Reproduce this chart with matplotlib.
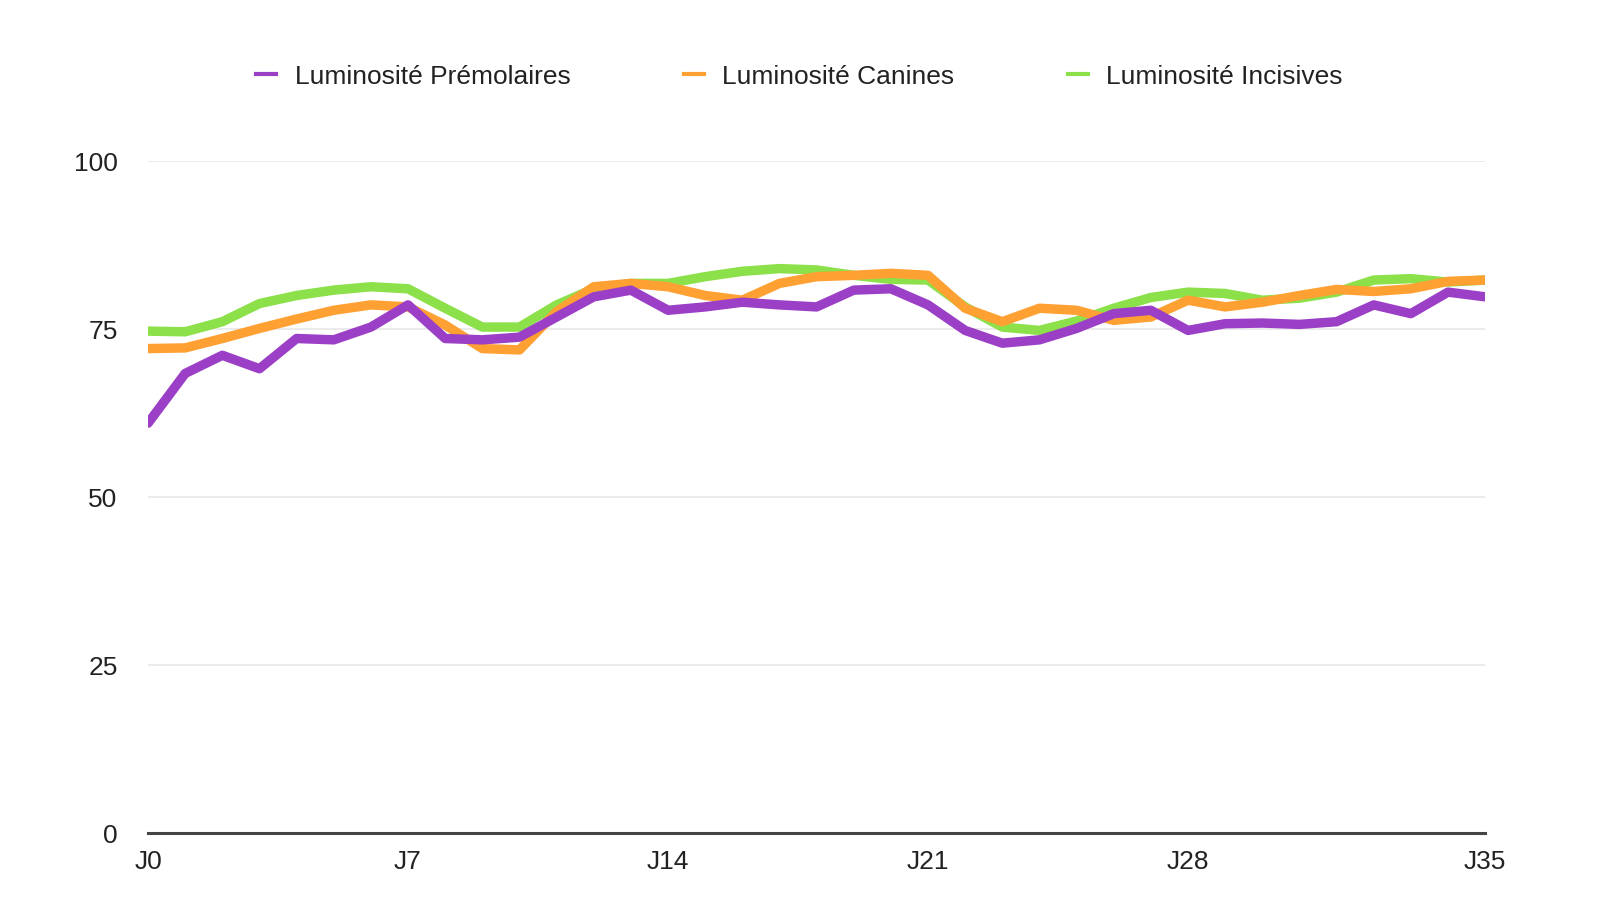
import numpy as np
import matplotlib
matplotlib.use("Agg")
import matplotlib.pyplot as plt

# 37 category points (last label "J35" sits at the end)
points = list(range(37))
premolaires = [61.0, 68.4, 71.1, 69.1, 73.6, 73.4, 75.3, 78.6, 73.6, 73.4,
               73.8, 76.8, 79.8, 80.8, 77.8, 78.3, 79.0, 78.6, 78.3, 80.8,
               81.0, 78.6, 74.8, 72.9, 73.4, 75.1, 77.3, 77.8, 74.8, 75.8,
               75.9, 75.7, 76.1, 78.6, 77.3, 80.5, 79.8]
canines = [72.1, 72.2, 73.6, 75.1, 76.5, 77.8, 78.6, 78.3, 75.6, 72.1,
           71.9, 77.6, 81.3, 81.8, 81.3, 80.0, 79.3, 81.8, 82.8, 83.0,
           83.3, 83.0, 78.1, 76.1, 78.1, 77.8, 76.3, 76.8, 79.3, 78.3,
           79.0, 80.0, 80.9, 80.6, 81.0, 82.1, 82.3]
incisives = [74.7, 74.6, 76.1, 78.8, 80.0, 80.8, 81.3, 81.0, 78.1, 75.3,
             75.3, 78.6, 81.0, 81.8, 81.8, 82.8, 83.6, 84.0, 83.8, 83.0,
             82.4, 82.3, 78.3, 75.3, 74.8, 76.2, 78.1, 79.7, 80.5, 80.3,
             79.3, 79.6, 80.5, 82.3, 82.5, 82.0, 82.3]

xtick_pos = [0, 7, 14, 21, 28, 36]
xtick_labels = ["J0", "J7", "J14", "J21", "J28", "J35"]
ytick_pos = [0, 25, 50, 75, 100]

plt.rcParams['font.family'] = ['Liberation Sans', 'DejaVu Sans']

fig = plt.figure(figsize=(15.99, 9), dpi=100)
ax = fig.add_axes([0.0926, 0.0744, 0.8362, 0.7466])

lw = 6.8
ax.plot(points, incisives, color="#8ce04a", lw=lw, solid_joinstyle="round",
        solid_capstyle="round", zorder=3)
ax.plot(points, canines, color="#ffa033", lw=lw, solid_joinstyle="round",
        solid_capstyle="round", zorder=4)
ax.plot(points, premolaires, color="#9b3fc6", lw=lw, solid_joinstyle="round",
        solid_capstyle="round", zorder=5)

ax.set_xlim(0, 36)
ax.set_ylim(0, 100)
ax.set_xticks(xtick_pos)
ax.set_xticklabels(xtick_labels)
ax.set_yticks(ytick_pos)
ax.tick_params(axis="both", length=0, labelsize=19, colors="#222222")
ax.tick_params(axis="x", pad=12)
ax.tick_params(axis="y", pad=22)

ax.grid(axis="y", color="#e8e8e8", lw=1.2)
ax.set_axisbelow(True)
for s in ["top", "right", "left"]:
    ax.spines[s].set_visible(False)
ax.spines["bottom"].set_color("#444444")
ax.spines["bottom"].set_linewidth(2.2)
ax.spines["bottom"].set_zorder(6)

leg_handles = [plt.Line2D([], [], color=c, lw=3)
               for c in ["#9b3fc6", "#ffa033", "#8ce04a"]]
fig.legend(leg_handles,
           ["Luminosité Prémolaires", "Luminosité Canines", "Luminosité Incisives"],
           loc="center", bbox_to_anchor=(0.5, 0.915), ncol=3, frameon=False,
           fontsize=19, handlelength=0.75, handletextpad=0.7, columnspacing=4.3,
           labelcolor="#222222")

fig.savefig("out.png", dpi=100, facecolor="white")
